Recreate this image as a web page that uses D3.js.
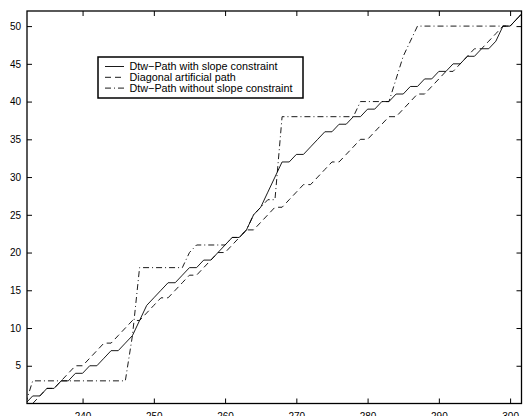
<!DOCTYPE html>
<html>
<head>
<meta charset="utf-8">
<script src="https://cdn.jsdelivr.net/npm/d3@7"></script>
<style>
  body { margin: 0; background: #fff; }
  svg { display: block; }
  text { font-family: "Liberation Sans", Arial, Helvetica, sans-serif; font-size: 10px; fill: #000; }
</style>
</head>
<body>
<div id="chart"></div>
<script>
// data: [frame, frame]
const slopePath = [
  [232,0],[233,1],[234,1],[235,2],[236,2],[237,3],[238,3],[239,4],[240,4],[241,5],
  [242,5],[243,6],[244,7],[245,7],[246,8],[247,9],[248,11],[249,13],[250,14],[251,15],
  [252,16],[253,16],[254,17],[255,18],[256,18],[257,19],[258,19],[259,20],[260,21],[261,22],
  [262,22],[263,23],[264,25],[265,26],[266,28],[267,30],[268,32],[269,32],[270,33],[271,33],
  [272,34],[273,35],[274,36],[275,36],[276,37],[277,37],[278,38],[279,38],[280,39],[281,39],
  [282,40],[283,40],[284,41],[285,41],[286,42],[287,42],[288,43],[289,43],[290,44],[291,44],
  [292,45],[293,45],[294,46],[295,46],[296,47],[297,47],[298,48],[299,50],[300,50],[301,51],
  [302,52]
];

const diagonalPath = [
  [233,0],[234,1],[235,2],[236,2],[237,3],[238,4],[239,5],[240,5],[241,6],[242,7],
  [243,8],[244,8],[245,9],[246,10],[247,11],[248,11],[249,12],[250,13],[251,14],[252,14],
  [253,15],[254,16],[255,17],[256,17],[257,18],[258,19],[259,20],[260,20],[261,21],[262,22],
  [263,23],[264,23],[265,24],[266,25],[267,26],[268,26],[269,27],[270,28],[271,29],[272,29],
  [273,30],[274,31],[275,32],[276,32],[277,33],[278,34],[279,35],[280,35],[281,36],[282,37],
  [283,38],[284,38],[285,39],[286,40],[287,41],[288,41],[289,42],[290,43],[291,44],[292,44],
  [293,45],[294,46],[295,47],[296,47],[297,48],[298,49],[299,50],[300,50],[301,51],[302,52]
];

const freePath = [
  [232,0],[233,3],[246,3],[247,9],[248,18],[254,18],[255,20],[256,21],[260,21],[261,22],
  [262,22],[263,23],[264,25],[265,26],[266,27],[267,27],[268,38],[278,38],[279,40],[283,40],
  [284,43],[285,46],[286,48],[287,50],[299,50],[300,50],[301,51],[302,52]
];

const xTicks = [240, 250, 260, 270, 280, 290, 300];
const yTicks = [5, 10, 15, 20, 25, 30, 35, 40, 45, 50];

const legendLabels = [
  "Dtw\u2212Path with slope constraint",
  "Diagonal artificial path",
  "Dtw\u2212Path without slope constraint"
];
const dashes = [null, "6,4", "6,3,1,3"];

const W = 523, H = 416;
const margin = ({top: 11, right: 1.5, bottom: 12.5, left: 27});
const width = W - margin.left - margin.right;
const height = H - margin.top - margin.bottom;

const svg = d3.select("#chart")
  .append("svg")
  .attr("width", W)
  .attr("height", H)
  .append("g")
  .attr("transform", "translate(" + margin.left + "," + margin.top + ")");

const x = d3.scaleLinear().domain([232.2, 301.6]).range([0, width]);
const y = d3.scaleLinear().domain([0, 52]).range([height, 0]);

svg.append("clipPath").attr("id", "plot")
  .append("rect").attr("width", width).attr("height", height);

// axes, matlab style: ticks inside, box around
const tick = 5;
svg.append("g")
  .attr("transform", `translate(0,${height})`)
  .call(d3.axisBottom(x).tickValues(xTicks).tickSize(-tick).tickPadding(9))
  .call(g => g.select(".domain").remove());
svg.append("g")
  .call(d3.axisTop(x).tickValues(xTicks).tickSize(-tick).tickFormat(""))
  .call(g => g.select(".domain").remove());
svg.append("g")
  .call(d3.axisLeft(y).tickValues(yTicks).tickSize(-tick).tickPadding(6))
  .call(g => g.select(".domain").remove());
svg.append("g")
  .attr("transform", `translate(${width},0)`)
  .call(d3.axisRight(y).tickValues(yTicks).tickSize(-tick).tickFormat(""))
  .call(g => g.select(".domain").remove());

svg.selectAll(".tick line").attr("stroke", "#000").attr("stroke-width", 1);
svg.selectAll(".tick text").style("font-size", "10px");

const line = d3.line().x(d => x(d[0])).y(d => y(d[1]));

const series = [slopePath, diagonalPath, freePath];
svg.append("g").attr("clip-path", "url(#plot)")
  .selectAll("path")
  .data(series)
  .join("path")
  .attr("d", line)
  .attr("fill", "none")
  .attr("stroke", "#000")
  .attr("stroke-width", 0.9)
  .attr("stroke-dasharray", (d, i) => dashes[i]);

svg.append("rect")
  .attr("width", width).attr("height", height)
  .attr("fill", "none").attr("stroke", "#000").attr("stroke-width", 1.3);

// legend
const leg = svg.append("g").attr("transform", `translate(${98 - margin.left},${57 - margin.top})`);
leg.append("rect")
  .attr("width", 205).attr("height", 41)
  .attr("fill", "#fff").attr("stroke", "#000").attr("stroke-width", 1.5);
const rows = leg.selectAll(".row").data(legendLabels).join("g")
  .attr("class", "row")
  .attr("transform", (d, i) => `translate(0,${9.5 + i * 10.8})`);
rows.append("line")
  .attr("x1", 7).attr("x2", 26)
  .attr("stroke", "#000").attr("stroke-width", 0.9)
  .attr("stroke-dasharray", (d, i) => dashes[i]);
rows.append("text")
  .attr("x", 31.5).attr("dy", "0.35em")
  .style("font-size", "10.8px")
  .text(d => d);
</script>
</body>
</html>
